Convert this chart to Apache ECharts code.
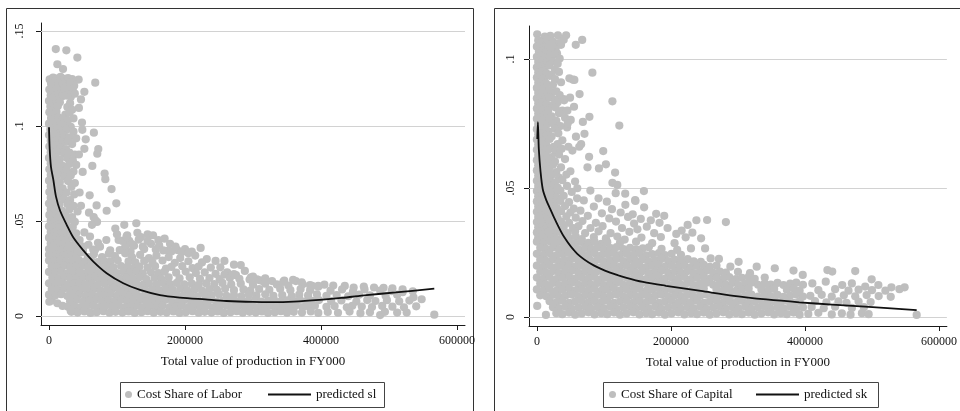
<!DOCTYPE html>
<html><head><meta charset="utf-8">
<script src="https://cdn.jsdelivr.net/npm/echarts@6/dist/echarts.min.js"></script>
<style>html,body{margin:0;padding:0;background:#fff}#c{width:960px;height:411px}</style>
</head><body><div id="c"></div>
<script>
const xTicks=[0,200000,400000,600000];
const laborYTicks=[0,.05,.1,.15];
const capitalYTicks=[0,.05,.1];

const laborShare=[
[10e3,.1405],[25.5e3,.1398],[41.7e3,.136],[12.3e3,.1325],[20.6e3,.13],[68e3,.1228],[43.6e3,.1244],[52e3,.118],[47e3,.114],[44e3,.1095],[48.5e3,.1018],
[1e3,.1245],[6e3,.1255],[11e3,.125],[17e3,.1258],[23e3,.1248],[28e3,.1252],[34e3,.1247],
[3e3,.1222],[8.5e3,.1218],[14e3,.1225],[20e3,.1215],[26e3,.122],[31e3,.1228],[37e3,.1212],
[.5e3,.1192],[5.5e3,.1188],[11e3,.1195],[16.5e3,.1185],[23e3,.119],[29e3,.1183],[35e3,.1195],
[2.5e3,.1162],[8e3,.1158],[13.5e3,.1165],[19e3,.1155],[25.5e3,.116],[32e3,.1152],[38e3,.117],
[0,.1132],[5e3,.1128],[10.5e3,.1135],[16e3,.1125],[31e3,.112],
[2e3,.1102],[7.5e3,.1098],[13e3,.1105],[27e3,.11],[34e3,.1085],
[.5e3,.1072],[5.5e3,.1068],[11e3,.1075],[24e3,.106],[30e3,.107],
[3e3,.1042],[8.5e3,.1038],[14e3,.1045],[20e3,.1035],[28e3,.103],[36e3,.104],
[0,.1012],[5.5e3,.1008],[11e3,.1015],[17e3,.1005],[24e3,.1],[32e3,.0995],
[2e3,.0982],[7e3,.0978],[12e3,.0985],[19e3,.0975],[26e3,.098],[36e3,.097],
[0,.0952],[5e3,.0948],[10e3,.0955],[15e3,.0945],[22e3,.095],[30e3,.094],[40e3,.0935],
[2.5e3,.0922],[7.5e3,.0918],[12.5e3,.0925],[20e3,.0915],[28e3,.092],[34e3,.0905],
[.5e3,.0892],[5e3,.0888],[10e3,.0895],[17e3,.0885],[25e3,.0878],
[2.5e3,.0862],[7.5e3,.0858],[12e3,.0865],[22e3,.0855],[30e3,.086],[38e3,.085],
[0,.0832],[5e3,.0828],[10e3,.0835],[16e3,.0825],[27e3,.083],[35e3,.082],
[2.5e3,.0802],[7.5e3,.0798],[13e3,.0805],[20e3,.079],[30e3,.08],[40e3,.0795],
[.5e3,.0772],[5e3,.0768],[10e3,.0775],[18e3,.0765],[26e3,.077],[36e3,.076],
[2.5e3,.0742],[7.5e3,.0738],[12.5e3,.0745],[22e3,.0735],[32e3,.074],
[0,.0712],[5e3,.0708],[10e3,.0715],[16e3,.0705],[28e3,.071],[38e3,.07],
[2.5e3,.0682],[7.5e3,.0678],[12.5e3,.0685],[20e3,.0672],[33e3,.068],
[.5e3,.0652],[5e3,.0648],[10e3,.0655],[17e3,.0645],[26e3,.065],[37e3,.064],
[2.5e3,.0622],[7.5e3,.0618],[12.5e3,.0625],[22e3,.0615],[31e3,.061],
[0,.0592],[5e3,.0588],[10e3,.0595],[15e3,.0585],[27e3,.059],[36e3,.058],
[2.5e3,.0562],[7.5e3,.0558],[12.5e3,.0565],[19e3,.0555],[30e3,.056],[42e3,.055],
[.5e3,.0532],[5e3,.0528],[10e3,.0535],[16e3,.0525],[24e3,.053],[34e3,.052],
[2.5e3,.0502],[7.5e3,.0498],[12.5e3,.0505],[19e3,.0495],[27e3,.05],[38e3,.0495],
[49e3,.098],[66e3,.0965],[54e3,.093],[52e3,.088],[72.5e3,.0879],[71e3,.0854],[63.7e3,.079],[49.5e3,.0758],[81.8e3,.075],[82.8e3,.072],[92e3,.0668],[59.8e3,.0635],[70e3,.0582],[99e3,.0593],[84.8e3,.0554],[58.8e3,.0544],[65.7e3,.052],[68e3,.0505],[70.6e3,.0495],[63.2e3,.048],[44e3,.085],[45e3,.065],[47e3,.058],
[0,.0472],[5e3,.0468],[10e3,.0475],[15e3,.0465],[21e3,.047],[28e3,.0462],[35e3,.0468],[97.5e3,.046],[110.7e3,.048],[128.4e3,.0488],
[2.5e3,.0442],[7.5e3,.0438],[12.5e3,.0445],[18e3,.0435],[24e3,.044],[31e3,.0445],[40e3,.0435],[52e3,.044],[145e3,.043],
[0,.0412],[5e3,.0408],[10e3,.0415],[15e3,.0405],[21e3,.041],[27e3,.0405],[34e3,.0412],[45e3,.04],[84.3e3,.04],[102.4e3,.04],[160.8e3,.04],[170e3,.0407],[135e3,.0415],[118e3,.0395],
[2.5e3,.0382],[7.5e3,.0378],[12.5e3,.0385],[18e3,.0375],[24e3,.038],[30e3,.0372],[38e3,.0378],[58e3,.0375],[72e3,.0385],[125e3,.037],[150e3,.038],
[0,.0352],[5e3,.0348],[10e3,.0355],[15e3,.0345],[21e3,.035],[27e3,.0345],[33e3,.0352],[42e3,.0348],[50e3,.0342],[65e3,.035],[90e3,.0345],[110e3,.035],[140e3,.0352],[175.5e3,.0344],[188.7e3,.0347],[200e3,.0352],[210e3,.0339],[223e3,.0358],
[100e3,.043],[108e3,.0395],[115e3,.0425],[122e3,.0378],[130e3,.0438],[138e3,.0365],[145e3,.0395],[153e3,.0425],[162e3,.0372],[168e3,.0345],[178e3,.038],[186e3,.0365],[195e3,.0335],[132e3,.0402],[112e3,.0362],[157e3,.035],[120e3,.034],[180e3,.034],[205e3,.033],
[60.3e3,.0418],[50.5e3,.0365],[67.6e3,.0347],[75e3,.0365],[89.7e3,.033],[104e3,.0347],[114e3,.0418],[119e3,.033],
[0,.0322],[5e3,.0318],[10e3,.0325],[15e3,.0315],[21e3,.032],[27e3,.0326],[33e3,.0318],
[40e3,.032],[48e3,.0335],[57e3,.031],[66e3,.0325],[78e3,.031],[88e3,.0328],[97e3,.0315],[112e3,.033],[122e3,.031],[134e3,.0322],[147e3,.0305],[158e3,.0318],[176e3,.031],[193e3,.0305],[232e3,.03],[245e3,.029],[215e3,.0318],
[0,.0292],[8e3,.0288],[17e3,.0295],[26e3,.0285],[35e3,.029],[44e3,.0294],[53e3,.0286],[62e3,.0292],[71e3,.0284],[81e3,.029],[90e3,.0286],[101e3,.0293],[117e3,.0287],[127e3,.0282],[140e3,.029],[152e3,.0285],[167e3,.0292],[185e3,.028],[205e3,.0288],[225e3,.0282],[252e3,.0256],
[4e3,.0262],[13e3,.0258],[22e3,.0265],[31e3,.0255],[40e3,.026],[49e3,.0264],[58e3,.0256],[67e3,.0262],[76e3,.0254],[85e3,.026],[95e3,.0256],[106e3,.0263],[115e3,.0257],[124e3,.0252],[133e3,.026],[145e3,.0255],[156e3,.0262],[172e3,.025],[180e3,.0258],[196e3,.0262],[211e3,.0252],[220e3,.026],[238e3,.0255],[262e3,.023],[288e3,.0237],
[0,.0232],[9e3,.0228],[18e3,.0235],[27e3,.0225],[36e3,.023],[45e3,.0234],[54e3,.0226],[63e3,.0232],[72e3,.0224],[82e3,.023],[91e3,.0236],[100e3,.0226],[110e3,.0232],[119e3,.0228],[128e3,.0234],[138e3,.0224],[150e3,.023],[161e3,.0226],[170e3,.0233],[187e3,.0228],[201e3,.0234],[216e3,.0226],[229e3,.023],[245e3,.0222],[258e3,.0218],[275e3,.0215],
[5e3,.0202],[14e3,.0198],[23e3,.0205],[32e3,.0195],[41e3,.02],[50e3,.0204],[59e3,.0196],[68e3,.0202],[77e3,.0194],[86e3,.02],[96e3,.0206],[105e3,.0196],[114e3,.0202],[123e3,.0198],[133e3,.0204],[143e3,.0194],[155e3,.02],[165e3,.0196],[176e3,.0203],[192e3,.0198],[207e3,.0204],[222e3,.0196],[236e3,.02],[251e3,.0194],[266e3,.02],[280e3,.0196],[295e3,.0192],[310e3,.0188],[328e3,.0184],[346e3,.0186],[363e3,.0184],[373e3,.0167],
[272e3,.0221],[297e3,.0204],[306e3,.0193],[314e3,.0184],[258e3,.029],[272e3,.027],[282e3,.0268],[300e3,.0207],[318e3,.0198],[344.6e3,.018],[359e3,.019],[371.6e3,.0177],[383.8e3,.0163],[396e3,.0158],
[405e3,.0165],[418e3,.016],[435e3,.0158],[448e3,.015],[463e3,.0155],[478e3,.015],[492e3,.0148],[505e3,.0145],[520e3,.014],[535e3,.013],
[0,.0172],[9e3,.0168],[18e3,.0175],[27e3,.0165],[36e3,.017],[45e3,.0174],[54e3,.0166],[63e3,.0172],[72e3,.0164],[82e3,.017],[91e3,.0176],[100e3,.0166],[110e3,.0172],[119e3,.0168],[128e3,.0174],[138e3,.0164],[147e3,.017],[158e3,.0166],[168e3,.0173],[178e3,.0168],[188e3,.0174],[199e3,.0166],[210e3,.017],[220e3,.0164],[231e3,.0172],[243e3,.0168],[255e3,.0174],[268e3,.0166],[282e3,.017],[300e3,.0164],[318e3,.017],[335e3,.0166],[352e3,.016],[387e3,.0158],[396e3,.0154],
[4e3,.0142],[13e3,.0138],[22e3,.0145],[31e3,.0135],[40e3,.014],[49e3,.0144],[58e3,.0136],[67e3,.0142],[76e3,.0134],[86e3,.014],[95e3,.0146],[104e3,.0136],[114e3,.0142],[123e3,.0138],[133e3,.0144],[142e3,.0134],[152e3,.014],[162e3,.0136],[172e3,.0143],[182e3,.0138],[193e3,.0144],[203e3,.0136],[214e3,.014],[225e3,.0134],[236e3,.0142],[247e3,.0138],[259e3,.0144],[272e3,.0136],[286e3,.014],[296e3,.0134],[309e3,.0142],[324e3,.0138],[340e3,.0144],[355e3,.0136],[370e3,.0142],[384e3,.0136],[414e3,.0133],[431e3,.014],[447e3,.0128],[464e3,.014],[487e3,.0133],[504e3,.0131],[520e3,.0125],
[0,.0112],[9e3,.0108],[18e3,.0115],[27e3,.0105],[36e3,.011],[45e3,.0114],[54e3,.0106],[63e3,.0112],[72e3,.0104],[82e3,.011],[91e3,.0116],[100e3,.0106],[110e3,.0112],[119e3,.0108],[128e3,.0114],[138e3,.0104],[147e3,.011],[157e3,.0106],[167e3,.0113],[177e3,.0108],[187e3,.0114],[197e3,.0106],[208e3,.011],[218e3,.0104],[229e3,.0112],[239e3,.0108],[250e3,.0114],[261e3,.0106],[272e3,.011],[283e3,.0104],[294e3,.0112],[305e3,.0108],[318e3,.0114],[330e3,.0106],[343e3,.011],[357e3,.0104],[368e3,.0112],[381e3,.0108],[394e3,.0114],[408e3,.0106],[423e3,.011],[440e3,.0104],[456e3,.0112],[472e3,.0108],[495e3,.0106],[512e3,.0112],[536e3,.0098],[548e3,.0088],
[4e3,.0082],[31e3,.0078],[41e3,.0085],[50e3,.0076],[59e3,.008],[68e3,.0084],[78e3,.0077],[87e3,.0082],[96e3,.0078],[106e3,.0085],[115e3,.0076],[124e3,.008],[134e3,.0084],[143e3,.0077],[152e3,.0082],[162e3,.0078],[171e3,.0085],[181e3,.0076],[190e3,.008],[199e3,.0084],[209e3,.0077],[218e3,.0082],[228e3,.0078],[237e3,.0085],[246e3,.0076],[256e3,.008],[265e3,.0084],[275e3,.0077],[284e3,.0082],[293e3,.0078],[303e3,.0085],[312e3,.0076],[322e3,.008],[331e3,.0084],[341e3,.0077],[350e3,.0082],[360e3,.0078],[369e3,.0085],[378e3,.0076],[388e3,.008],[397e3,.0084],[415e3,.0078],[430e3,.0082],[452e3,.0076],[468e3,.0084],[480e3,.0079],[497e3,.0083],[515e3,.0077],[530e3,.0081],
[28e3,.0048],[37e3,.0052],[46e3,.0046],[55e3,.005],[65e3,.0054],[74e3,.0047],[83e3,.0052],[93e3,.0048],[102e3,.0055],[111e3,.0046],[121e3,.005],[130e3,.0054],[139e3,.0047],[149e3,.0052],[158e3,.0048],[167e3,.0055],[177e3,.0046],[186e3,.005],[195e3,.0054],[205e3,.0047],[214e3,.0052],[223e3,.0048],[233e3,.0055],[242e3,.0046],[251e3,.005],[261e3,.0054],[270e3,.0047],[279e3,.0052],[289e3,.0048],[298e3,.0055],[307e3,.0046],[317e3,.005],[326e3,.0054],[335e3,.0047],[345e3,.0052],[354e3,.0048],[363e3,.0055],[373e3,.0046],[382e3,.005],[391e3,.0054],[408e3,.0048],[420e3,.0052],[438e3,.0046],[446e3,.0054],[460e3,.005],[475e3,.0047],[490e3,.0053],[505e3,.0049],[522e3,.0046],[540e3,.0051],
[33e3,.0022],[42e3,.0018],[52e3,.0024],[61e3,.0016],[70e3,.002],[80e3,.0025],[89e3,.0017],[98e3,.0022],[108e3,.0018],[117e3,.0024],[126e3,.0016],[136e3,.002],[145e3,.0025],[154e3,.0017],[164e3,.0022],[173e3,.0018],[183e3,.0024],[192e3,.0016],[201e3,.002],[211e3,.0025],[220e3,.0017],[229e3,.0022],[239e3,.0018],[248e3,.0024],[257e3,.0016],[267e3,.002],[276e3,.0025],[285e3,.0017],[295e3,.0022],[304e3,.0018],[313e3,.0024],[322e3,.0016],[332e3,.002],[341e3,.0025],[350e3,.0017],[360e3,.0022],[372e3,.0018],[385e3,.0024],[396e3,.0016],[410e3,.0021],[425e3,.0017],[442e3,.0023],[458e3,.0015],[472e3,.002],[487e3,.0005],[494e3,.0022],[512e3,.0018],[526e3,.0018],
[.5e3,.0075],[12.3e3,.0067],[20e3,.0053],[31.9e3,.0028],[566.6e3,.0007]
];

const laborFit=[[0,.0993],[1e3,.088],[2.9e3,.0785],[6.4e3,.0716],[10.3e3,.0628],[16.2e3,.0555],[26e3,.048],[35.8e3,.0413],[50.5e3,.0345],[65.2e3,.0286],[84.8e3,.0225],[109.3e3,.0172],[133.8e3,.0137],[163.2e3,.011],[192.6e3,.0097],[230e3,.0087],[261e3,.0079],[300e3,.0074],[330e3,.0073],[360e3,.0076],[398e3,.0085],[430e3,.0095],[467e3,.011],[510e3,.0124],[566.6e3,.0144]];

const capitalShare=[
[.5e3,.1096],[11.8e3,.1087],[20e3,.109],[31.4e3,.1092],[43.6e3,.1092],[67.6e3,.1074],
[2e3,.1072],[8e3,.1065],[15e3,.1075],[24e3,.1068],[33e3,.1062],[40e3,.1075],
[0,.1048],[5e3,.1052],[11e3,.1045],[18e3,.105],[28e3,.1042],[36e3,.1055],
[3e3,.1028],[9e3,.1032],[14e3,.1025],[22e3,.103],[30e3,.1022],
[0,.1008],[6e3,.1012],[12e3,.1005],[20e3,.101],[26e3,.1018],[34e3,.1002],
[2e3,.0988],[8e3,.0992],[15e3,.0985],[24e3,.099],[31e3,.0982],
[0,.0968],[5e3,.0972],[11e3,.0965],[18e3,.0975],[27e3,.096],
[2e3,.0948],[8e3,.0952],[14e3,.0945],[22e3,.094],[33e3,.095],
[0,.0928],[5e3,.0932],[11e3,.0925],[19e3,.0935],[27e3,.0922],
[2e3,.0908],[8e3,.0912],[14e3,.0905],[24e3,.09],[36e3,.091],
[0,.0888],[5e3,.0892],[11e3,.0885],[18e3,.088],[29e3,.0875],
[2e3,.0868],[8e3,.0872],[14e3,.0865],[22e3,.0868],[34e3,.086],
[0,.0848],[5e3,.0852],[11e3,.0845],[19e3,.085],[27e3,.0842],[40e3,.0845],
[2e3,.0828],[8e3,.0832],[14e3,.0825],[24e3,.082],[31e3,.0832],
[0,.0808],[5e3,.0812],[11e3,.0805],[17e3,.08],[28e3,.0812],[38e3,.08],
[2e3,.0788],[8e3,.0792],[14e3,.0785],[22e3,.0778],[33e3,.079],
[0,.0768],[5e3,.0772],[11e3,.0765],[19e3,.077],[29e3,.076],[42e3,.0772],
[2e3,.0748],[8e3,.0752],[14e3,.0745],[24e3,.075],[35e3,.074],
[0,.0728],[5e3,.0732],[11e3,.0725],[17e3,.072],[27e3,.073],[45e3,.0735],
[2e3,.0708],[8e3,.0712],[14e3,.0705],[22e3,.07],[32e3,.0712],
[0,.0688],[5e3,.0692],[11e3,.0685],[19e3,.069],[38e3,.0685],
[2e3,.0668],[8e3,.0672],[14e3,.0665],[25e3,.066],[31e3,.067],[47e3,.066],
[0,.0648],[5e3,.0652],[11e3,.0645],[18e3,.065],[28e3,.064],[37e3,.0652],
[2e3,.0628],[8e3,.0632],[14e3,.0625],[22e3,.062],[33e3,.063],
[0,.0608],[5e3,.0612],[11e3,.0605],[19e3,.061],[27e3,.0602],[42e3,.0612],
[2e3,.0588],[8e3,.0592],[14e3,.0585],[24e3,.059],[36e3,.058],
[0,.0568],[5e3,.0572],[11e3,.0565],[18e3,.057],[29e3,.0562],[50e3,.0565],
[2e3,.0548],[8e3,.0552],[14e3,.0545],[22e3,.055],[33e3,.054],[44e3,.0552],
[0,.0528],[5e3,.0532],[11e3,.0525],[19e3,.053],[27e3,.0522],[38e3,.053],[57e3,.0525],
[2e3,.0508],[8e3,.0512],[14e3,.0505],[24e3,.051],[31e3,.0502],[45e3,.0508],
[82.8e3,.0947],[54e3,.092],[63.7e3,.0864],[49.5e3,.085],[40.7e3,.084],[112.7e3,.0836],[78.4e3,.0776],[68.6e3,.0756],[123e3,.0742],[71e3,.071],[66e3,.067],[53e3,.0645],[99e3,.0643],[75.5e3,.058],[92.6e3,.0576],[103e3,.0592],[116.7e3,.056],[112.7e3,.052],[120e3,.0512],[60.3e3,.0499],
[50.5e3,.0764],[45.6e3,.08],[55.4e3,.0815],[48.5e3,.0925],[55.9e3,.0919],[46.1e3,.0751],[58.3e3,.0699],[63.2e3,.066],[77.9e3,.0621],[58e3,.1055],
[0,.0488],[5e3,.0492],[11e3,.0485],[18e3,.049],[26e3,.0482],[35e3,.049],[52e3,.0485],[79.8e3,.049],
[2e3,.0468],[8e3,.0472],[14e3,.0465],[22e3,.047],[30e3,.0462],[40e3,.047],[60e3,.046],[92e3,.046],[117.6e3,.048],[131.8e3,.0478],[159.7e3,.0488],[146.6e3,.0453],
[0,.0448],[5e3,.0452],[11e3,.0445],[18e3,.045],[26e3,.0442],[35e3,.045],[48e3,.0445],[70e3,.0452],[104.4e3,.0447],[147e3,.045],[132e3,.0435],
[2e3,.0428],[8e3,.0432],[14e3,.0425],[22e3,.043],[30e3,.0422],[42e3,.043],[55e3,.042],[85e3,.0428],[112e3,.0418],[160e3,.0425],
[0,.0408],[5e3,.0412],[11e3,.0405],[18e3,.041],[27e3,.0402],[36e3,.041],[50e3,.0405],[65e3,.0412],[97e3,.0402],[125e3,.0405],[143e3,.0398],[178e3,.04],[190e3,.0392],
[2e3,.0388],[8e3,.0392],[14e3,.0385],[22e3,.039],[31e3,.0382],[44e3,.039],[58e3,.0385],[76e3,.0392],[108e3,.0382],[136e3,.0388],[155e3,.038],[170e3,.0375],
[0,.0368],[5e3,.0372],[11e3,.0365],[18e3,.037],[26e3,.0362],[36e3,.037],[48e3,.0365],[68e3,.0372],[88e3,.0365],[118e3,.037],[145e3,.0362],[183e3,.0365],[238e3,.0375],[254e3,.0376],[282e3,.0368],
[2e3,.0348],[8e3,.0352],[14e3,.0345],[22e3,.035],[30e3,.0342],[40e3,.035],[54e3,.0345],[62e3,.0352],[80e3,.0345],[98e3,.0352],[127e3,.0345],[150e3,.034],[164e3,.035],[225e3,.0357],[216e3,.0335],[195e3,.0345],
[0,.0328],[5e3,.0332],[11e3,.0325],[18e3,.033],[26e3,.0322],[35e3,.033],[46e3,.0325],[57e3,.0332],[72e3,.0325],[92e3,.0332],[110e3,.0325],[138e3,.033],[175e3,.0325],[232e3,.0327],[208e3,.0322],
[2e3,.0308],[8e3,.0312],[14e3,.0305],[22e3,.031],[30e3,.0302],[39e3,.031],[48e3,.0305],[58e3,.0312],[67e3,.0302],[85e3,.031],[103e3,.0305],[120e3,.0312],[131e3,.03],[156e3,.0308],[185e3,.031],[222e3,.0309],[245e3,.0305],
[0,.0292],[10e3,.0288],[19e3,.0294],[29e3,.0286],[38e3,.029],[48e3,.0293],[57e3,.0285],[67e3,.0291],[77e3,.0287],[86e3,.0292],[96e3,.0284],[105e3,.029],[124e3,.0288],[148e3,.0292],[172e3,.0286],[205.4e3,.0286],
[5e3,.0268],[14e3,.0264],[24e3,.027],[33e3,.0262],[43e3,.0267],[52e3,.0271],[62e3,.0263],[72e3,.0268],[81e3,.0264],[91e3,.027],[100e3,.0262],[110e3,.0267],[119e3,.0271],[129e3,.0263],[139e3,.0268],[148e3,.0262],[158e3,.0266],[167e3,.027],[186e3,.0264],[209.3e3,.026],[229.9e3,.0266],[251e3,.0266],
[0,.0245],[10e3,.0241],[19e3,.0247],[29e3,.0239],[38e3,.0244],[48e3,.0248],[57e3,.024],[67e3,.0245],[77e3,.0241],[86e3,.0247],[96e3,.0239],[105e3,.0244],[115e3,.0248],[124e3,.024],[134e3,.0245],[144e3,.0241],[153e3,.0247],[163e3,.0239],[172e3,.0244],[182e3,.0248],[191e3,.024],[201e3,.0245],[215e3,.0241],[259.3e3,.0227],[271.6e3,.0225],
[5e3,.0222],[14e3,.0218],[24e3,.0224],[33e3,.0216],[43e3,.0221],[52e3,.0225],[62e3,.0217],[72e3,.0222],[81e3,.0218],[91e3,.0224],[100e3,.0216],[110e3,.0221],[119e3,.0225],[129e3,.0217],[139e3,.0222],[148e3,.0218],[158e3,.0224],[167e3,.0216],[177e3,.0221],[186e3,.0225],[196e3,.0217],[206e3,.0222],[215e3,.0218],[225e3,.0224],[234e3,.0216],[244.6e3,.0214],[301e3,.0214],
[0,.0199],[10e3,.0195],[19e3,.0201],[29e3,.0193],[38e3,.0198],[48e3,.0202],[57e3,.0194],[67e3,.0199],[77e3,.0195],[86e3,.0201],[96e3,.0193],[105e3,.0198],[115e3,.0202],[124e3,.0194],[134e3,.0199],[144e3,.0195],[153e3,.0201],[163e3,.0193],[172e3,.0198],[182e3,.0202],[191e3,.0194],[201e3,.0199],[211e3,.0195],[220e3,.0201],[230e3,.0193],[239e3,.0198],[249e3,.0202],[258e3,.0194],[268e3,.0199],[288.7e3,.0195],[328e3,.0195],[355e3,.0189],
[5e3,.0176],[14e3,.0172],[24e3,.0178],[33e3,.017],[43e3,.0175],[52e3,.0179],[62e3,.0171],[72e3,.0176],[81e3,.0172],[91e3,.0178],[100e3,.017],[110e3,.0175],[119e3,.0179],[129e3,.0171],[139e3,.0176],[148e3,.0172],[158e3,.0178],[167e3,.017],[177e3,.0175],[186e3,.0179],[196e3,.0171],[206e3,.0176],[215e3,.0172],[225e3,.0178],[234e3,.017],[244e3,.0175],[253e3,.0179],[263e3,.0171],[273e3,.0176],[282e3,.0172],[300e3,.0175],[318e3,.017],[382.9e3,.018],[433.5e3,.0182],[440.7e3,.0176],[475e3,.0178],
[0,.0153],[10e3,.0149],[19e3,.0155],[29e3,.0147],[38e3,.0152],[48e3,.0156],[57e3,.0148],[67e3,.0153],[77e3,.0149],[86e3,.0155],[96e3,.0147],[105e3,.0152],[115e3,.0156],[124e3,.0148],[134e3,.0153],[144e3,.0149],[153e3,.0155],[163e3,.0147],[172e3,.0152],[182e3,.0156],[191e3,.0148],[201e3,.0153],[211e3,.0149],[220e3,.0155],[230e3,.0147],[239e3,.0152],[249e3,.0156],[258e3,.0148],[268e3,.0153],[278e3,.0149],[287e3,.0155],[297e3,.0147],[306e3,.0152],[316e3,.0156],[325e3,.0148],[340e3,.0153],[396.7e3,.0163],[499.5e3,.0146],
[5e3,.013],[14e3,.0126],[24e3,.0132],[33e3,.0124],[43e3,.0129],[52e3,.0133],[62e3,.0125],[72e3,.013],[81e3,.0126],[91e3,.0132],[100e3,.0124],[110e3,.0129],[119e3,.0133],[129e3,.0125],[139e3,.013],[148e3,.0126],[158e3,.0132],[167e3,.0124],[177e3,.0129],[186e3,.0133],[196e3,.0125],[206e3,.013],[215e3,.0126],[225e3,.0132],[234e3,.0124],[244e3,.0129],[253e3,.0133],[263e3,.0125],[273e3,.013],[282e3,.0126],[292e3,.0132],[301e3,.0124],[311e3,.0129],[320e3,.0133],[330e3,.0125],[340e3,.013],[349e3,.0126],[359e3,.0132],[368e3,.0124],[378e3,.0129],[387e3,.0133],[397e3,.0125],[411e3,.013],[431e3,.0137],[455.6e3,.0124],[470e3,.013],[489.9e3,.0118],[509.5e3,.0124],[529e3,.0115],[548.7e3,.0115],
[0,.0107],[10e3,.0103],[19e3,.0109],[29e3,.0101],[38e3,.0106],[48e3,.011],[57e3,.0102],[67e3,.0107],[77e3,.0103],[86e3,.0109],[96e3,.0101],[105e3,.0106],[115e3,.011],[124e3,.0102],[134e3,.0107],[144e3,.0103],[153e3,.0109],[163e3,.0101],[172e3,.0106],[182e3,.011],[191e3,.0102],[201e3,.0107],[211e3,.0103],[220e3,.0109],[230e3,.0101],[239e3,.0106],[249e3,.011],[268e3,.0107],[278e3,.0103],[287e3,.0109],[297e3,.0101],[306e3,.0106],[316e3,.011],[335e3,.0107],[345e3,.0103],[354e3,.0109],[373e3,.0106],[383e3,.011],[392e3,.0102],[420e3,.0104],[445e3,.0108],[465e3,.0102],[480e3,.0106],[500e3,.0104],[520e3,.0102],[541e3,.0108],
[5e3,.0084],[14e3,.008],[24e3,.0086],[33e3,.0078],[43e3,.0083],[52e3,.0087],[62e3,.0079],[72e3,.0084],[81e3,.008],[91e3,.0086],[100e3,.0078],[110e3,.0083],[119e3,.0087],[129e3,.0079],[139e3,.0084],[148e3,.008],[158e3,.0086],[167e3,.0078],[177e3,.0083],[186e3,.0087],[196e3,.0079],[206e3,.0084],[215e3,.008],[225e3,.0086],[234e3,.0078],[244e3,.0083],[253e3,.0087],[263e3,.0079],[273e3,.0084],[282e3,.008],[292e3,.0086],[301e3,.0078],[311e3,.0083],[320e3,.0087],[330e3,.0079],[340e3,.0084],[349e3,.008],[359e3,.0086],[368e3,.0078],[378e3,.0083],[387e3,.0087],[397e3,.0079],[408e3,.0082],[425e3,.0086],[440e3,.0079],[458e3,.0084],[475e3,.008],[492e3,.0085],[510e3,.0081],[528e3,.0078],
[19e3,.0061],[29e3,.0057],[38e3,.0063],[48e3,.0055],[57e3,.006],[67e3,.0064],[77e3,.0056],[86e3,.0061],[96e3,.0057],[105e3,.0063],[115e3,.0055],[124e3,.006],[134e3,.0064],[144e3,.0056],[153e3,.0061],[163e3,.0057],[172e3,.0063],[182e3,.0055],[191e3,.006],[201e3,.0064],[211e3,.0056],[220e3,.0061],[230e3,.0057],[239e3,.0063],[249e3,.0055],[258e3,.006],[268e3,.0064],[278e3,.0056],[287e3,.0061],[297e3,.0057],[306e3,.0063],[316e3,.0055],[325e3,.006],[335e3,.0064],[345e3,.0056],[354e3,.0061],[364e3,.0057],[373e3,.0063],[383e3,.0055],[392e3,.006],[415e3,.0062],[432e3,.0057],[450e3,.0061],[462e3,.0055],[480e3,.006],[498e3,.0058],
[24e3,.0038],[33e3,.0034],[43e3,.004],[52e3,.0032],[62e3,.0037],[72e3,.0041],[81e3,.0033],[91e3,.0038],[100e3,.0034],[110e3,.004],[119e3,.0032],[129e3,.0037],[139e3,.0041],[148e3,.0033],[158e3,.0038],[167e3,.0034],[177e3,.004],[186e3,.0032],[196e3,.0037],[206e3,.0041],[215e3,.0033],[225e3,.0038],[234e3,.0034],[244e3,.004],[253e3,.0032],[263e3,.0037],[273e3,.0041],[282e3,.0033],[292e3,.0038],[301e3,.0034],[311e3,.004],[320e3,.0032],[330e3,.0037],[340e3,.0041],[349e3,.0033],[359e3,.0038],[368e3,.0034],[378e3,.004],[387e3,.0032],[397e3,.0037],[410e3,.0039],[428e3,.0034],[445e3,.004],[470e3,.0035],[488e3,.0038],
[29e3,.0015],[38e3,.0011],[48e3,.0017],[57e3,.0009],[67e3,.0014],[77e3,.0018],[86e3,.001],[96e3,.0015],[105e3,.0011],[115e3,.0017],[124e3,.0009],[134e3,.0014],[144e3,.0018],[153e3,.001],[163e3,.0015],[172e3,.0011],[182e3,.0017],[191e3,.0009],[201e3,.0014],[211e3,.0018],[220e3,.001],[230e3,.0015],[239e3,.0011],[249e3,.0017],[258e3,.0009],[268e3,.0014],[278e3,.0018],[287e3,.001],[297e3,.0015],[306e3,.0011],[316e3,.0017],[325e3,.0009],[335e3,.0014],[345e3,.0018],[354e3,.001],[364e3,.0015],[373e3,.0011],[383e3,.0017],[392e3,.0009],[405e3,.0012],[420e3,.0016],[440e3,.001],[455e3,.0014],[468e3,.0009],[485e3,.0015],[495e3,.0011],
[.5e3,.0043],[13.5e3,.0008],[566.7e3,.0008]
];

const capitalFit=[[.6e3,.069],[1.5e3,.0755],[2.9e3,.065],[5.4e3,.0565],[8.8e3,.0495],[14e3,.0453],[20e3,.0418],[25.7e3,.0385],[40.7e3,.031],[60.3e3,.0245],[84.8e3,.02],[109.3e3,.0172],[133.8e3,.0152],[158.3e3,.0136],[192.6e3,.0121],[244.6e3,.0101],[293.6e3,.0082],[342.6e3,.0068],[391.6e3,.0057],[440.6e3,.0048],[489.7e3,.004],[566.7e3,.0027]];

const FONT='"Liberation Serif","DejaVu Serif",serif';
const PT='#bebebe';
const INK='#111';
function yFmt(v){return v===0?'0':String(+v.toFixed(4)).replace(/^0\./,'.');}
function xFmt(v){return String(Math.round(v));}
function mkX(gi){return {gridIndex:gi,type:'value',min:-11765,max:611770,
  axisLine:{show:true,onZero:false,lineStyle:{color:'#1a1a1a',width:1}},
  axisTick:{show:true,length:5,customValues:xTicks,lineStyle:{color:'#1a1a1a'}},
  axisLabel:{customValues:xTicks,formatter:xFmt,margin:10,color:INK,fontFamily:FONT,fontSize:12},
  splitLine:{show:false},
  name:'Total value of production in FY000',nameLocation:'middle',nameGap:30,
  nameTextStyle:{color:INK,fontFamily:FONT,fontSize:13}};}
function mkY(gi,min,max,ticks,margin){return {gridIndex:gi,type:'value',min:min,max:max,
  axisLine:{show:true,onZero:false,lineStyle:{color:'#1a1a1a',width:1}},
  axisTick:{show:true,length:5,customValues:ticks,lineStyle:{color:'#1a1a1a'}},
  axisLabel:{customValues:ticks,rotate:90,margin:margin,formatter:yFmt,color:INK,fontFamily:FONT,fontSize:12},
  splitLine:{show:false}};}
function grid(ticks){return {silent:true,symbol:'none',z:1,label:{show:false},animation:false,
  lineStyle:{color:'#d2d2d2',width:1,type:'solid'},data:ticks.map(v=>({yAxis:v}))};}
const txt={fontFamily:FONT,fontSize:13,color:INK};
const chart=echarts.init(document.getElementById('c'));
chart.setOption({
  animation:false,
  backgroundColor:'#fff',
  grid:[{left:41,top:23,width:424,height:302},{left:529,top:26,width:424,height:300}],
  xAxis:[mkX(0),mkX(1)],
  yAxis:[mkY(0,-0.00474,0.1542,laborYTicks,15),mkY(1,-0.00349,0.1128,capitalYTicks,12)],
  legend:[
    {left:125,top:388,itemWidth:7,itemHeight:7,itemGap:0,padding:0,selectedMode:false,data:[{name:'Cost Share of Labor',icon:'circle'}],textStyle:txt},
    {left:268,top:388,itemWidth:43,itemHeight:2,itemGap:0,padding:0,selectedMode:false,data:[{name:'predicted sl',icon:'rect',itemStyle:{color:INK}}],textStyle:txt},
    {left:609,top:388,itemWidth:7,itemHeight:7,itemGap:0,padding:0,selectedMode:false,data:[{name:'Cost Share of Capital',icon:'circle'}],textStyle:txt},
    {left:756,top:388,itemWidth:43,itemHeight:2,itemGap:0,padding:0,selectedMode:false,data:[{name:'predicted sk',icon:'rect',itemStyle:{color:INK}}],textStyle:txt}
  ],
  graphic:[
    {type:'rect',silent:true,shape:{x:6.5,y:8.5,width:467,height:420},style:{fill:'none',stroke:'#333',lineWidth:1}},
    {type:'rect',silent:true,shape:{x:494.5,y:8.5,width:480,height:420},style:{fill:'none',stroke:'#333',lineWidth:1}},
    {type:'rect',silent:true,shape:{x:120.5,y:382.5,width:264,height:25},style:{fill:'none',stroke:'#444',lineWidth:1}},
    {type:'rect',silent:true,shape:{x:603.5,y:382.5,width:275,height:25},style:{fill:'none',stroke:'#444',lineWidth:1}}
  ],
  series:[
    {name:'Cost Share of Labor',type:'scatter',xAxisIndex:0,yAxisIndex:0,data:laborShare,symbolSize:8.2,itemStyle:{color:PT,opacity:1},z:2,markLine:grid(laborYTicks)},
    {name:'predicted sl',type:'line',xAxisIndex:0,yAxisIndex:0,data:laborFit,showSymbol:false,symbol:'none',smooth:0.3,lineStyle:{color:INK,width:1.8},itemStyle:{color:INK},z:4},
    {name:'Cost Share of Capital',type:'scatter',xAxisIndex:1,yAxisIndex:1,data:capitalShare,symbolSize:8.2,itemStyle:{color:PT,opacity:1},z:2,markLine:grid(capitalYTicks)},
    {name:'predicted sk',type:'line',xAxisIndex:1,yAxisIndex:1,data:capitalFit,showSymbol:false,symbol:'none',smooth:0.3,lineStyle:{color:INK,width:1.8},itemStyle:{color:INK},z:4}
  ]
});
</script></body></html>
